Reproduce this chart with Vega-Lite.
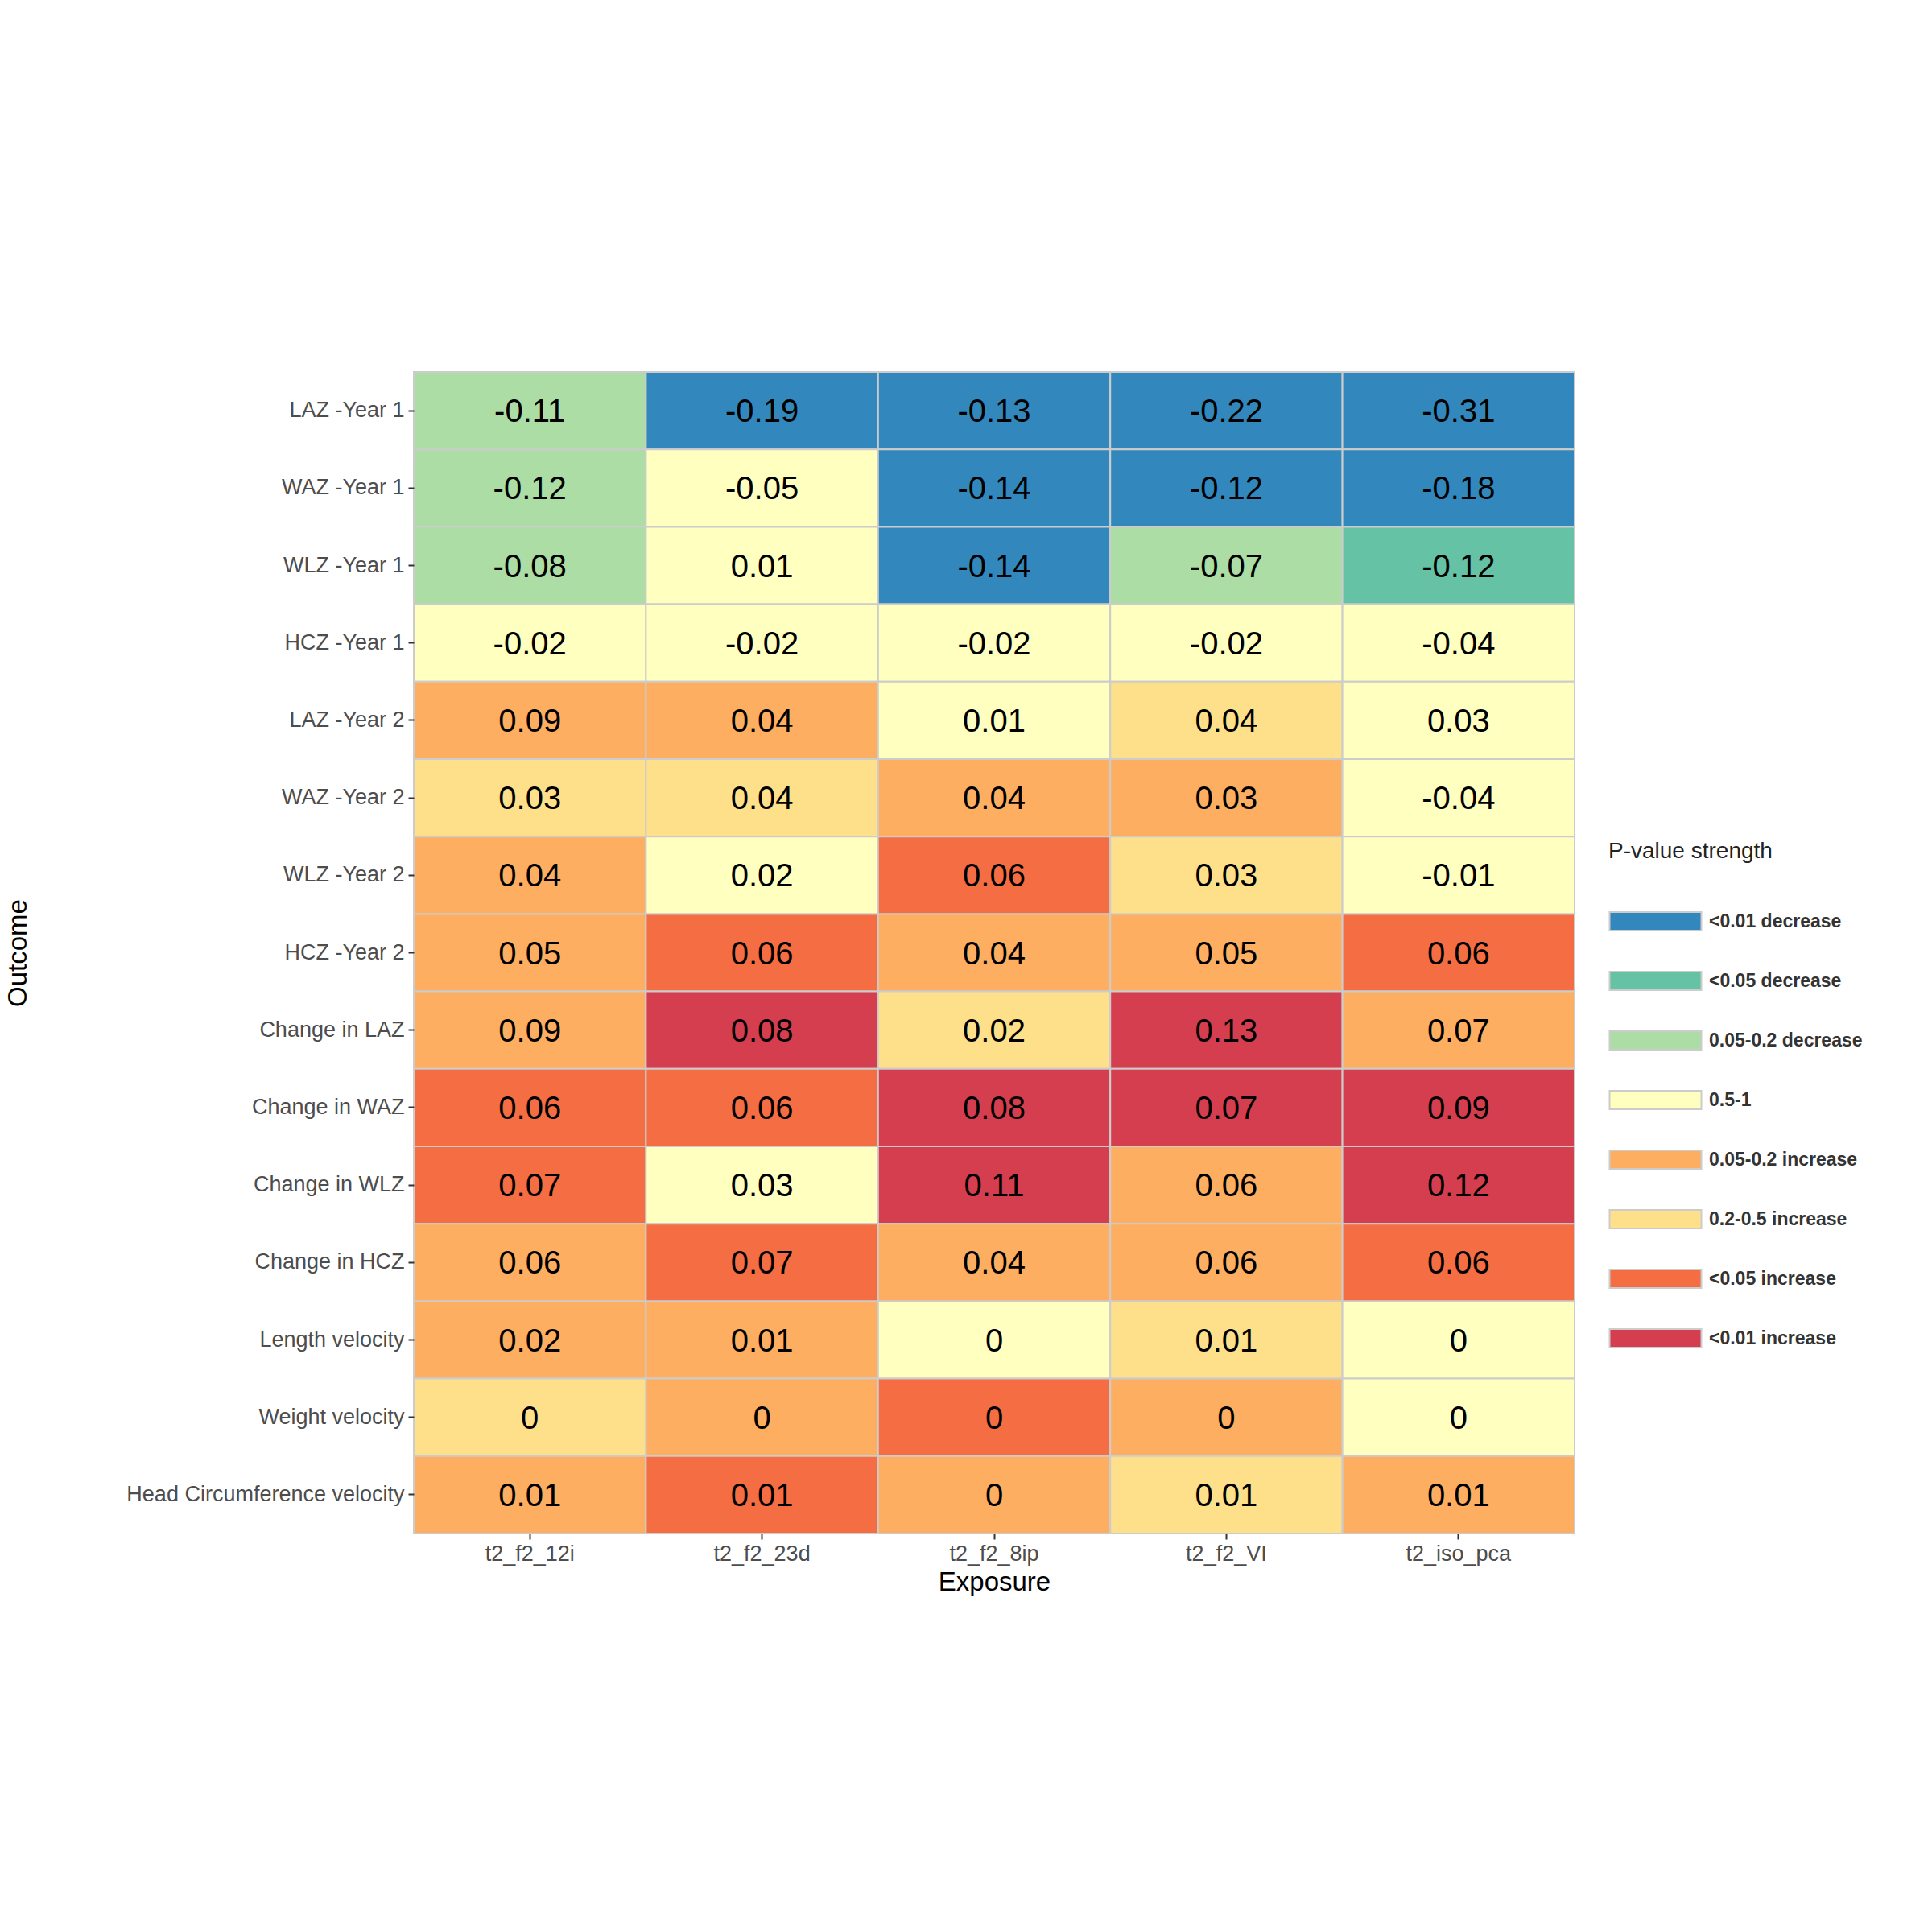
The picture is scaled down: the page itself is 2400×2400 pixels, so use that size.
{
  "$schema": "https://vega.github.io/schema/vega-lite/v6.json",
  "autosize": {"type": "none"},
  "padding": {"left": 514, "top": 462, "right": 444, "bottom": 495},
  "width": 1442,
  "height": 1443,
  "background": "white",
  "config": {
    "view": {"stroke": null},
    "font": "Liberation Sans",
    "axis": {"domain": false, "grid": false, "tickColor": "#333333", "tickSize": 7, "tickWidth": 2,
      "labelColor": "#4d4d4d", "labelFontSize": 27, "titleFontSize": 33, "titleFontWeight": "normal", "titleColor": "black", "labelPadding": 5, "labelLimit": 0}
  },
  "data": {"values": [
    {"o":"LAZ -Year 1","e":"t2_f2_12i","v":"-0.11","p":"0.05-0.2 decrease"},
    {"o":"LAZ -Year 1","e":"t2_f2_23d","v":"-0.19","p":"<0.01 decrease"},
    {"o":"LAZ -Year 1","e":"t2_f2_8ip","v":"-0.13","p":"<0.01 decrease"},
    {"o":"LAZ -Year 1","e":"t2_f2_VI","v":"-0.22","p":"<0.01 decrease"},
    {"o":"LAZ -Year 1","e":"t2_iso_pca","v":"-0.31","p":"<0.01 decrease"},
    {"o":"WAZ -Year 1","e":"t2_f2_12i","v":"-0.12","p":"0.05-0.2 decrease"},
    {"o":"WAZ -Year 1","e":"t2_f2_23d","v":"-0.05","p":"0.5-1"},
    {"o":"WAZ -Year 1","e":"t2_f2_8ip","v":"-0.14","p":"<0.01 decrease"},
    {"o":"WAZ -Year 1","e":"t2_f2_VI","v":"-0.12","p":"<0.01 decrease"},
    {"o":"WAZ -Year 1","e":"t2_iso_pca","v":"-0.18","p":"<0.01 decrease"},
    {"o":"WLZ -Year 1","e":"t2_f2_12i","v":"-0.08","p":"0.05-0.2 decrease"},
    {"o":"WLZ -Year 1","e":"t2_f2_23d","v":"0.01","p":"0.5-1"},
    {"o":"WLZ -Year 1","e":"t2_f2_8ip","v":"-0.14","p":"<0.01 decrease"},
    {"o":"WLZ -Year 1","e":"t2_f2_VI","v":"-0.07","p":"0.05-0.2 decrease"},
    {"o":"WLZ -Year 1","e":"t2_iso_pca","v":"-0.12","p":"<0.05 decrease"},
    {"o":"HCZ -Year 1","e":"t2_f2_12i","v":"-0.02","p":"0.5-1"},
    {"o":"HCZ -Year 1","e":"t2_f2_23d","v":"-0.02","p":"0.5-1"},
    {"o":"HCZ -Year 1","e":"t2_f2_8ip","v":"-0.02","p":"0.5-1"},
    {"o":"HCZ -Year 1","e":"t2_f2_VI","v":"-0.02","p":"0.5-1"},
    {"o":"HCZ -Year 1","e":"t2_iso_pca","v":"-0.04","p":"0.5-1"},
    {"o":"LAZ -Year 2","e":"t2_f2_12i","v":"0.09","p":"0.05-0.2 increase"},
    {"o":"LAZ -Year 2","e":"t2_f2_23d","v":"0.04","p":"0.05-0.2 increase"},
    {"o":"LAZ -Year 2","e":"t2_f2_8ip","v":"0.01","p":"0.5-1"},
    {"o":"LAZ -Year 2","e":"t2_f2_VI","v":"0.04","p":"0.2-0.5 increase"},
    {"o":"LAZ -Year 2","e":"t2_iso_pca","v":"0.03","p":"0.5-1"},
    {"o":"WAZ -Year 2","e":"t2_f2_12i","v":"0.03","p":"0.2-0.5 increase"},
    {"o":"WAZ -Year 2","e":"t2_f2_23d","v":"0.04","p":"0.2-0.5 increase"},
    {"o":"WAZ -Year 2","e":"t2_f2_8ip","v":"0.04","p":"0.05-0.2 increase"},
    {"o":"WAZ -Year 2","e":"t2_f2_VI","v":"0.03","p":"0.05-0.2 increase"},
    {"o":"WAZ -Year 2","e":"t2_iso_pca","v":"-0.04","p":"0.5-1"},
    {"o":"WLZ -Year 2","e":"t2_f2_12i","v":"0.04","p":"0.05-0.2 increase"},
    {"o":"WLZ -Year 2","e":"t2_f2_23d","v":"0.02","p":"0.5-1"},
    {"o":"WLZ -Year 2","e":"t2_f2_8ip","v":"0.06","p":"<0.05 increase"},
    {"o":"WLZ -Year 2","e":"t2_f2_VI","v":"0.03","p":"0.2-0.5 increase"},
    {"o":"WLZ -Year 2","e":"t2_iso_pca","v":"-0.01","p":"0.5-1"},
    {"o":"HCZ -Year 2","e":"t2_f2_12i","v":"0.05","p":"0.05-0.2 increase"},
    {"o":"HCZ -Year 2","e":"t2_f2_23d","v":"0.06","p":"<0.05 increase"},
    {"o":"HCZ -Year 2","e":"t2_f2_8ip","v":"0.04","p":"0.05-0.2 increase"},
    {"o":"HCZ -Year 2","e":"t2_f2_VI","v":"0.05","p":"0.05-0.2 increase"},
    {"o":"HCZ -Year 2","e":"t2_iso_pca","v":"0.06","p":"<0.05 increase"},
    {"o":"Change in LAZ","e":"t2_f2_12i","v":"0.09","p":"0.05-0.2 increase"},
    {"o":"Change in LAZ","e":"t2_f2_23d","v":"0.08","p":"<0.01 increase"},
    {"o":"Change in LAZ","e":"t2_f2_8ip","v":"0.02","p":"0.2-0.5 increase"},
    {"o":"Change in LAZ","e":"t2_f2_VI","v":"0.13","p":"<0.01 increase"},
    {"o":"Change in LAZ","e":"t2_iso_pca","v":"0.07","p":"0.05-0.2 increase"},
    {"o":"Change in WAZ","e":"t2_f2_12i","v":"0.06","p":"<0.05 increase"},
    {"o":"Change in WAZ","e":"t2_f2_23d","v":"0.06","p":"<0.05 increase"},
    {"o":"Change in WAZ","e":"t2_f2_8ip","v":"0.08","p":"<0.01 increase"},
    {"o":"Change in WAZ","e":"t2_f2_VI","v":"0.07","p":"<0.01 increase"},
    {"o":"Change in WAZ","e":"t2_iso_pca","v":"0.09","p":"<0.01 increase"},
    {"o":"Change in WLZ","e":"t2_f2_12i","v":"0.07","p":"<0.05 increase"},
    {"o":"Change in WLZ","e":"t2_f2_23d","v":"0.03","p":"0.5-1"},
    {"o":"Change in WLZ","e":"t2_f2_8ip","v":"0.11","p":"<0.01 increase"},
    {"o":"Change in WLZ","e":"t2_f2_VI","v":"0.06","p":"0.05-0.2 increase"},
    {"o":"Change in WLZ","e":"t2_iso_pca","v":"0.12","p":"<0.01 increase"},
    {"o":"Change in HCZ","e":"t2_f2_12i","v":"0.06","p":"0.05-0.2 increase"},
    {"o":"Change in HCZ","e":"t2_f2_23d","v":"0.07","p":"<0.05 increase"},
    {"o":"Change in HCZ","e":"t2_f2_8ip","v":"0.04","p":"0.05-0.2 increase"},
    {"o":"Change in HCZ","e":"t2_f2_VI","v":"0.06","p":"0.05-0.2 increase"},
    {"o":"Change in HCZ","e":"t2_iso_pca","v":"0.06","p":"<0.05 increase"},
    {"o":"Length velocity","e":"t2_f2_12i","v":"0.02","p":"0.05-0.2 increase"},
    {"o":"Length velocity","e":"t2_f2_23d","v":"0.01","p":"0.05-0.2 increase"},
    {"o":"Length velocity","e":"t2_f2_8ip","v":"0","p":"0.5-1"},
    {"o":"Length velocity","e":"t2_f2_VI","v":"0.01","p":"0.2-0.5 increase"},
    {"o":"Length velocity","e":"t2_iso_pca","v":"0","p":"0.5-1"},
    {"o":"Weight velocity","e":"t2_f2_12i","v":"0","p":"0.2-0.5 increase"},
    {"o":"Weight velocity","e":"t2_f2_23d","v":"0","p":"0.05-0.2 increase"},
    {"o":"Weight velocity","e":"t2_f2_8ip","v":"0","p":"<0.05 increase"},
    {"o":"Weight velocity","e":"t2_f2_VI","v":"0","p":"0.05-0.2 increase"},
    {"o":"Weight velocity","e":"t2_iso_pca","v":"0","p":"0.5-1"},
    {"o":"Head Circumference velocity","e":"t2_f2_12i","v":"0.01","p":"0.05-0.2 increase"},
    {"o":"Head Circumference velocity","e":"t2_f2_23d","v":"0.01","p":"<0.05 increase"},
    {"o":"Head Circumference velocity","e":"t2_f2_8ip","v":"0","p":"0.05-0.2 increase"},
    {"o":"Head Circumference velocity","e":"t2_f2_VI","v":"0.01","p":"0.2-0.5 increase"},
    {"o":"Head Circumference velocity","e":"t2_iso_pca","v":"0.01","p":"0.05-0.2 increase"}
  ]},
  "encoding": {
    "x": {"field": "e", "type": "nominal", "title": "Exposure", "sort": null,
      "scale": {"paddingInner": 0, "paddingOuter": 0},
      "axis": {"labelAngle": 0, "titlePadding": 6}},
    "y": {"field": "o", "type": "nominal", "title": "Outcome", "sort": null,
      "scale": {"paddingInner": 0, "paddingOuter": 0},
      "axis": {"titleX": -475}}
  },
  "layer": [
    {
      "mark": {"type": "rect", "stroke": "#cccccc", "strokeWidth": 2},
      "encoding": {
        "color": {"field": "p", "type": "nominal", "title": "P-value strength",
          "scale": {
            "domain": ["<0.01 decrease", "<0.05 decrease", "0.05-0.2 decrease", "0.5-1", "0.05-0.2 increase", "0.2-0.5 increase", "<0.05 increase", "<0.01 increase"],
            "range": ["#3288bd", "#66c2a5", "#abdda4", "#ffffbf", "#fdae61", "#fee08b", "#f46d43", "#d53e4f"]
          },
          "legend": {
            "orient": "none", "legendX": 1484, "legendY": 582,
            "titleFontSize": 28, "titleFontWeight": "normal", "titleColor": "#222222", "titlePadding": 14, "titleLimit": 0,
            "labelFontSize": 23, "labelFontWeight": "bold", "labelColor": "#333333", "labelLimit": 0,
            "symbolType": "M-1,-0.2H1V0.2H-1Z", "symbolSize": 13000, "symbolStrokeColor": "#cccccc", "symbolStrokeWidth": 2,
            "symbolOpacity": 1, "rowPadding": 0, "labelOffset": 8, "columnPadding": 0
          }
        }
      }
    },
    {
      "mark": {"type": "text", "fontSize": 40, "color": "black", "dy": 2},
      "encoding": {"text": {"field": "v"}}
    }
  ]
}
